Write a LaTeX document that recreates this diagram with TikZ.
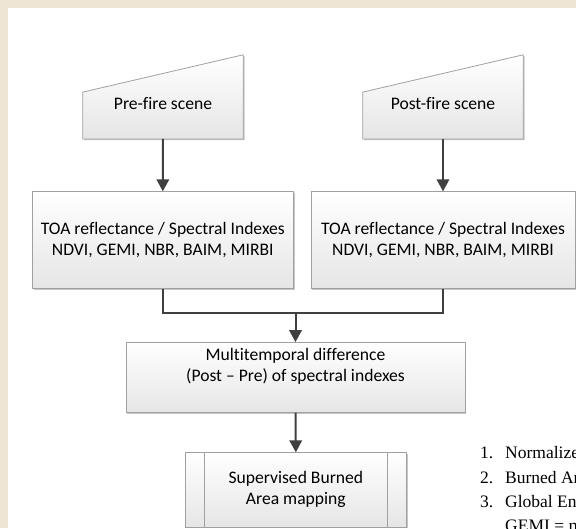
\documentclass[tikz,border=0pt]{standalone}
\usepackage{fontspec}
\setmainfont{Carlito}[Ligatures=NoCommon]
\newfontfamily\listfont{Liberation Serif}
\usetikzlibrary{arrows.meta,shadows,backgrounds,calc}
\definecolor{paper}{RGB}{238,229,213}
\definecolor{edge}{RGB}{160,160,160}
\definecolor{flow}{RGB}{64,64,64}
% centred lines with extra room below, which lifts the text in its box
\newcommand\liftedlines[2]{\begin{tabular}{@{}c@{}}#1\\[#2]\end{tabular}}
\begin{document}
\begin{tikzpicture}[x=1pt,y=-1pt,
  boxfill/.style={top color=white,bottom color=black!10,draw=edge,line width=0.8pt,
    drop shadow={shadow xshift=1.3pt,shadow yshift=-1.3pt,opacity=0.22,fill=black}},
  boxfont/.style={font=\fontsize{17.6}{21}\selectfont},
  box/.style={boxfill,boxfont,rectangle,inner sep=0pt,align=center},
  scenetext/.style={boxfont,rectangle,inner sep=0pt,minimum width=160pt,minimum height=46.4pt},
  flowline/.style={draw=flow,line width=2pt},
  flowarrow/.style={flowline,-{Triangle[length=12pt,width=12.5pt]}},
  listtext/.style={anchor=base west,inner sep=0pt,font=\listfont\fontsize{17.5}{21}\selectfont}
]
\useasboundingbox (0,0) rectangle (576,528);
\begin{scope}[on background layer]
  \fill[paper] (0,0) rectangle (576,528);
  \fill[white] (7.5,7.5) rectangle (576,528);
\end{scope}

% input scenes (manual-input shapes, text in the rectangular part)
\node[scenetext] (pre)  at (163,115.5) {\liftedlines{Pre-fire scene}{21pt}};
\node[scenetext] (post) at (443,115.5) {\liftedlines{Post-fire scene}{21pt}};
\begin{scope}[on background layer]
  \path[boxfill] (pre.south west) -- (pre.north west)
    -- ($(pre.north east)+(0,-37.3)$) -- (pre.south east) -- cycle;
  \path[boxfill] (post.south west) -- (post.north west)
    -- ($(post.north east)+(0,-37.3)$) -- (post.south east) -- cycle;
\end{scope}

% reflectance and index computation
\node[box,minimum width=261pt,minimum height=96.6pt] (toaA) at (162.8,240)
  {TOA reflectance / Spectral Indexes\\NDVI, GEMI, NBR, BAIM, MIRBI};
\node[box,minimum width=264pt,minimum height=96.6pt] (toaB) at (443,240)
  {TOA reflectance / Spectral Indexes\\NDVI, GEMI, NBR, BAIM, MIRBI};

% difference of the two dates
\node[box,minimum width=339pt,minimum height=69.8pt] (diff) at (295.5,377.4)
  {\liftedlines{Multitemporal difference\\(Post -- Pre) of spectral indexes}{21pt}};

% classification (predefined-process shape)
\node[box,minimum width=221.7pt,minimum height=74.3pt] (sup) at (295.85,489.85)
  {Supervised Burned\\Area mapping};
\draw[draw=edge,line width=0.8pt]
  ([xshift=20pt]sup.north west) -- ([xshift=20pt]sup.south west)
  ([xshift=-19.4pt]sup.north east) -- ([xshift=-19.4pt]sup.south east);

% connectors
\coordinate (join) at (295.5,312.7);
\draw[flowarrow] (pre.south) -- (toaA.north);
\draw[flowarrow] (post.south) -- (toaB.north);
\draw[flowline,line join=miter] (toaA.south) |- (join);
\draw[flowline,line join=miter] (toaB.south) |- (join);
\draw[flowarrow] ([yshift=-1pt]join) -- (diff.north);
\draw[flowarrow] (diff.south) -- (sup.north);

% list of indexes beside the flowchart
\node[listtext] (n1) at (480,458) {1.};
\node[listtext] (t1) at (505,458) {Normalized Difference Vegetation Index (NDVI)};
\node[listtext] (n2) at (480,483) {2.};
\node[listtext] (t2) at (505,483) {Burned Area Index (BAI)};
\node[listtext] (n3) at (480,507) {3.};
\node[listtext] (t3) at (505,507) {Global Environmental Monitoring Index (GEMI)};
\node[listtext] (t4) at (505,531) {GEMI = η(1 − 0.25η)};
\end{tikzpicture}
\end{document}
